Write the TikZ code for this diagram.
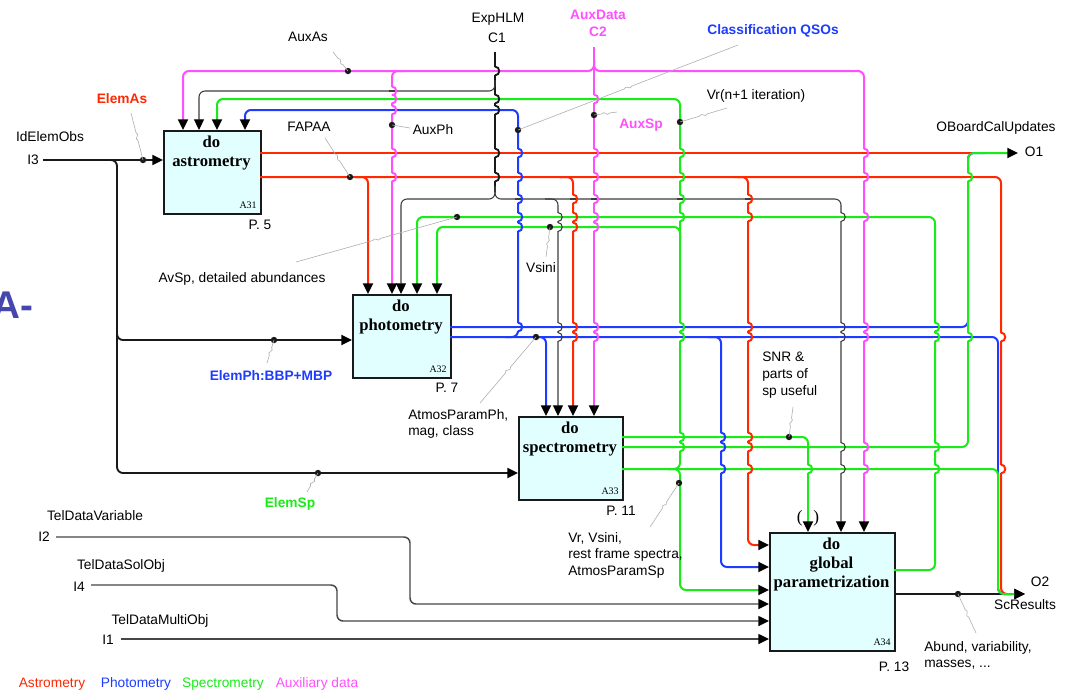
\documentclass[tikz,border=0pt]{standalone}
\usepackage{fontspec}
\setmainfont{Liberation Sans}
\newfontfamily\tmsfont{Liberation Serif}
\usetikzlibrary{arrows.meta,calc}
\definecolor{cr}{RGB}{255,40,0}
\definecolor{cb}{RGB}{30,60,255}
\definecolor{cg}{RGB}{25,235,25}
\definecolor{cm}{RGB}{255,80,255}
\definecolor{ck}{RGB}{25,25,25}
\definecolor{ci}{RGB}{70,70,70}
\definecolor{boxfill}{RGB}{226,255,255}
\definecolor{ldrc}{RGB}{175,175,175}
\definecolor{abig}{RGB}{70,70,175}
\newcommand\hop[3]{%
  \fill[white] (#1-1.8,#2-4.2) rectangle (#1+1.8,#2+4.2);
  \draw[hy#2] (#1-2.6,#2) -- (#1+2.6,#2);
  \draw[#3] (#1,#2-4.4) .. controls (#1+5.6,#2-4.4) and (#1+5.6,#2+4.4) .. (#1,#2+4.4);}
\newcommand\hopn[3]{%
  \fill[white] (#1-1.8,#2-4.2) rectangle (#1+1.8,#2+4.2);
  \draw[#3] (#1,#2-4.4) .. controls (#1+5.6,#2-4.4) and (#1+5.6,#2+4.4) .. (#1,#2+4.4);}
\newcommand\hops[3]{\foreach \yy in {#3}{\edef\hoptmp{\noexpand\hop{#1}{\yy}{#2}}\hoptmp}}
\newcommand\ldr[2]{\draw[ldrst] (#1) -- ($(#1)!.5!(#2)!3pt!(#1)$) to[bend left=80] ($(#1)!.5!(#2)$) to[bend right=80] ($(#1)!.5!(#2)!3pt!(#2)$) -- (#2);}
\newcommand\dotat[1]{\fill[ck] (#1) circle[radius=2.4pt];}
\begin{document}
\begin{tikzpicture}[x=0.75pt,y=-0.75pt,
  every node/.style={inner sep=0pt, font=\fontsize{10.3}{12}\selectfont},
  lR/.style={draw=cr, line width=1.5pt},
  lB/.style={draw=cb, line width=1.5pt},
  lG/.style={draw=cg, line width=1.5pt},
  lM/.style={draw=cm, line width=1.5pt},
  lK/.style={draw=ck, line width=1.4pt},
  lk/.style={draw=ck!85, line width=0.8pt},
  lI/.style={draw=ci, line width=1.1pt},
  rnd/.style={rounded corners=4.5pt},
  arrw/.style={-{Triangle[length=8pt,width=7.5pt,color=black]}},
  boxst/.style={draw=ck, fill=boxfill, line width=1.4pt, anchor=north west},
  boxtxt/.style={font=\tmsfont\bfseries\fontsize{12.5}{14.25}\selectfont, align=center, anchor=north},
  boxid/.style={font=\tmsfont\fontsize{7.5}{9}\selectfont, anchor=south east},
  ldrst/.style={draw=ldrc, line width=0.45pt},
  lbR/.style={text=cr, font=\bfseries\fontsize{10.3}{12}\selectfont},
  lbB/.style={text=cb, font=\bfseries\fontsize{10.3}{12}\selectfont},
  lbG/.style={text=cg, font=\bfseries\fontsize{10.3}{12}\selectfont},
  lbM/.style={text=cm, font=\bfseries\fontsize{10.3}{12}\selectfont},
  hy71/.style={lM}, hy91/.style={lk}, hy99/.style={lG}, hy110/.style={lB},
  hy153/.style={lR}, hy177/.style={lR}, hy199/.style={lk}, hy217/.style={lG},
  hy227/.style={lG}, hy327/.style={lB}, hy337/.style={lB}, hy437/.style={lG},
  hy447/.style={lG}, hy469/.style={lG}]
\fill[white] (0,0) rectangle (1074,694);
\useasboundingbox (0,0) rectangle (1074,694);

% ---- boxes
\node[boxst, minimum width=97*0.75pt, minimum height=83*0.75pt] (A31) at (163,130) {};
\node[boxst, minimum width=98*0.75pt, minimum height=83*0.75pt] (A32) at (352,294) {};
\node[boxst, minimum width=104*0.75pt, minimum height=83*0.75pt] (A33) at (518,416) {};
\node[boxst, minimum width=125*0.75pt, minimum height=118*0.75pt] (A34) at (769,532) {};
\node[boxtxt] (A31t) at (211.5,136) {do\\astrometry};
\node[boxtxt] (A32t) at (401,300) {do\\photometry};
\node[boxtxt] (A33t) at (570,422) {do\\spectrometry};
\node[boxtxt] (A34t) at (831.5,538) {do\\global\\parametrization};
\node[boxid] (A31i) at (257,209) {A31};
\node[boxid] (A32i) at (447,373) {A32};
\node[boxid] (A33i) at (619,495) {A33};
\node[boxid] (A34i) at (891,646) {A34};

% ---- inputs
\draw[lK,arrw] (43,160) -- (163,160);
\draw[lK,rnd,arrw] (100,160) -- (117,160) -- (117,340) -- (352,340);
\draw[lK,rnd,arrw] (117,330) -- (117,473) -- (518,473);
\draw[lI,rnd,arrw] (56,537) -- (410,537) -- (410,604) -- (769,604);
\draw[lI,rnd,arrw] (91,585) -- (337,585) -- (337,621) -- (769,621);
\draw[lI,arrw] (121,639) -- (769,639);

% ---- C1 (black)
\draw[lK] (495,52) -- (495,192);
\draw[lk,rnd,arrw] (495,80) -- (495,91) -- (199,91) -- (199,130);
\draw[lk,rnd,arrw] (495,186) -- (495,199) -- (401,199) -- (401,294);
\draw[lk,rnd,arrw] (495,186) -- (495,199) -- (841,199) -- (841,532);
\draw[lk,rnd,arrw] (545,199) -- (558,199) -- (558,416);

% ---- magenta
\draw[lM,arrw] (594,47) -- (594,416);
\draw[lM,rnd,arrw] (594,60) -- (594,71) -- (183,71) -- (183,130);
\draw[lM,rnd,arrw] (594,60) -- (594,71) -- (864,71) -- (864,532);
\draw[lM,rnd,arrw] (404,71) -- (392,71) -- (392,294);

% ---- black output of A34
\draw[lK,arrw] (894,594) -- (1025,594);

% ---- red
\draw[lR] (260,153) -- (1010,153);
\draw[lR,rnd] (260,177) -- (1001,177) -- (1001,594) -- (1012,594);
\draw[lR,rnd,arrw] (355,177) -- (368,177) -- (368,294);
\draw[lR,rnd,arrw] (560,177) -- (573,177) -- (573,416);
\draw[lR,rnd,arrw] (735,177) -- (748,177) -- (748,545) -- (769,545);

% ---- blue
\draw[lB,rnd] (450,327) -- (968,327) -- (968,153) -- (985,153);
\draw[lB,rnd] (450,337) -- (998,337) -- (998,594) -- (1012,594);
\draw[lB,rnd,arrw] (505,337) -- (518,337) -- (518,110) -- (245,110) -- (245,130);
\draw[lB,rnd,arrw] (533,337) -- (546,337) -- (546,416);
\draw[lB,rnd,arrw] (708,337) -- (721,337) -- (721,567) -- (769,567);

% ---- green
\draw[lG,rnd,arrw] (622,469) -- (998,469) -- (998,594) -- (1025,594);
\draw[lG,rnd,arrw] (668,469) -- (680,469) -- (680,99) -- (217,99) -- (217,130);
\draw[lG,rnd,arrw] (668,469) -- (680,469) -- (680,590) -- (769,590);
\draw[lG,rnd,arrw] (680,240) -- (680,227) -- (437,227) -- (437,294);
\draw[lG,rnd,arrw] (622,437) -- (808,437) -- (808,532);
\draw[lG,rnd,arrw] (622,447) -- (968,447) -- (968,153) -- (1018,153);
\draw[lG,rnd,arrw] (894,570) -- (935,570) -- (935,217) -- (417,217) -- (417,294);

% ---- hops
\hops{495}{lK}{71,99,110,153,177}
\hops{392}{lM}{91,99,110,153,177}
\hops{518}{lB}{153,177,199,217,227,327}
\hops{558}{lk}{217,227,327,337}
\hops{573}{lR}{199,217,227,327,337}
\hops{594}{lM}{99,153,177,199,217,227,327,337}
\hops{680}{lG}{153,177,199,217,327,337,437,447}
\hops{721}{lB}{437,447,469}
\hops{748}{lR}{199,217,327,337,437,447,469}
\hops{808}{lG}{469}
\hops{841}{lk}{217,327,337,447,469}
\hops{864}{lM}{153,177,217,327,337,447,469}
\hops{935}{lG}{327,337,447,469}
\hops{968}{lG}{177,337}
\hopn{1001}{337}{lR}
\hopn{1001}{469}{lR}

% ---- dots and leaders
\dotat{143,160} \ldr{131,113}{143,160}
\dotat{348,71} \ldr{333,52}{348,71}
\dotat{350,177} \ldr{325,138}{350,177}
\dotat{392,125} \draw[ldrst] (392,125) -- (410,128);
\dotat{594,115} \ldr{594,115}{617,112}
\dotat{518,130} \ldr{518,130}{738,45}
\dotat{680,122} \ldr{680,122}{727,108}
\dotat{457,217} \ldr{457,217}{296,262}
\dotat{550,227} \ldr{550,227}{546,257}
\dotat{274,340} \ldr{274,340}{267,363}
\dotat{536,337} \ldr{536,337}{480,403}
\dotat{789,437} \ldr{793,407}{789,437}
\dotat{679,483} \ldr{679,483}{650,527}
\dotat{318,473} \ldr{318,473}{307,492}
\dotat{958,594} \ldr{958,594}{976,633}

% ---- labels
\node (tIdElem) at (50,137) {IdElemObs};
\node (tI3) at (33,160) {I3};
\node[lbR] (tElemAs) at (122,99) {ElemAs};
\node (tAuxAs) at (308,37) {AuxAs};
\node (tExp) at (498,19) {ExpHLM};
\node (tC1) at (497,38) {C1};
\node[lbM] (tAuxData) at (598,15) {AuxData};
\node[lbM] (tC2) at (598,32) {C2};
\node[lbB] (tClass) at (773,31) {Classification QSOs};
\node (tVr) at (756,96) {Vr(n+1 iteration)};
\node (tFAPAA) at (309,127) {FAPAA};
\node (tAuxPh) at (433,130) {AuxPh};
\node[lbM] (tAuxSp) at (641,125) {AuxSp};
\node (tOB) at (996,128) {OBoardCalUpdates};
\node (tO1) at (1034,152) {O1};
\node (tP5) at (260,225) {P. 5};
\node (tAvSp) at (242,279) {AvSp, detailed abundances};
\node (tVsini) at (541,268) {Vsini};
\node[lbB] (tElemPh) at (271,376) {ElemPh:BBP+MBP};
\node (tP7) at (447,388) {P. 7};
\node[align=left,anchor=west] (tAtm) at (408,424) {AtmosParamPh,\\mag, class};
\node[align=left,anchor=west,font=\fontsize{10.3}{12.75}\selectfont] (tSNR) at (762,375) {SNR \&\\parts of\\sp useful};
\node[lbG] (tElemSp) at (290,504) {ElemSp};
\node (tP11) at (621,511) {P. 11};
\node[align=left,anchor=west,font=\fontsize{10.3}{12.4}\selectfont] (tVrV) at (568,555) {Vr, Vsini,\\rest frame spectra,\\AtmosParamSp};
\node[font=\tmsfont\fontsize{13}{14}\selectfont] (tpar) at (808,518) {(\hspace{8pt})};
\node (tTDV) at (95,516) {TelDataVariable};
\node (tI2) at (44,537) {I2};
\node (tTDS) at (121,566) {TelDataSolObj};
\node (tI4) at (79,587) {I4};
\node (tTDM) at (160,621) {TelDataMultiObj};
\node (tI1) at (108,640) {I1};
\node (tP13) at (894,667) {P. 13};
\node[align=left,anchor=west] (tAb) at (924,655) {Abund, variability,\\masses, ...};
\node (tO2) at (1040,582) {O2};
\node (tSc) at (1025,605) {ScResults};
\node[text=abig, font=\bfseries\fontsize{29}{30}\selectfont, anchor=east] (tA) at (34,305) {A-};
\node[text=cr] (lg1) at (52,684) {Astrometry};
\node[text=cb] (lg2) at (136,684) {Photometry};
\node[text=cg] (lg3) at (223,684) {Spectrometry};
\node[text=cm] (lg4) at (317,684) {Auxiliary data};
\end{tikzpicture}
\end{document}
